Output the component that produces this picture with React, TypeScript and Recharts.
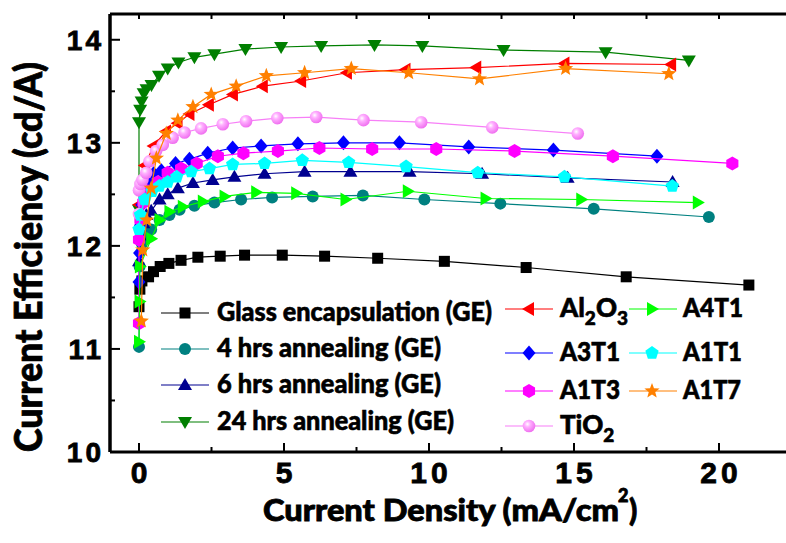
import { ScatterChart, Scatter, XAxis, YAxis, Label } from 'recharts';

// [current density (mA/cm2), current efficiency (cd/A)]
const glassGE: [number, number][] = [
  [0, 11.41], [0.03, 11.58], [0.1, 11.66], [0.33, 11.7], [0.5, 11.75], [0.73, 11.8],
  [1.03, 11.83], [1.45, 11.86], [2.03, 11.89], [2.8, 11.9], [3.64, 11.91], [4.94, 11.91],
  [6.4, 11.9], [8.23, 11.88], [10.53, 11.85], [13.35, 11.79], [16.8, 11.7], [21.03, 11.62],
];
const anneal4h: [number, number][] = [
  [0, 11.02], [0.02, 11.8], [0.1, 12.02], [0.25, 12.1], [0.42, 12.16], [0.71, 12.25],
  [1.05, 12.3], [1.4, 12.35], [1.91, 12.39], [2.6, 12.42], [3.52, 12.45], [4.59, 12.47],
  [5.99, 12.48], [7.72, 12.49], [9.84, 12.45], [12.46, 12.41], [15.68, 12.36], [19.65, 12.28],
];
const anneal6h: [number, number][] = [
  [0, 11.85], [0.03, 12.1], [0.15, 12.22], [0.25, 12.3], [0.42, 12.34], [0.71, 12.45],
  [0.99, 12.5], [1.34, 12.56], [1.86, 12.61], [2.54, 12.64], [3.29, 12.67], [4.33, 12.7],
  [5.71, 12.72], [7.29, 12.72], [9.33, 12.72], [11.83, 12.7], [14.78, 12.66], [18.4, 12.62],
];
const anneal24h: [number, number][] = [
  [0, 12.35], [0, 13.2], [0.04, 13.32], [0.09, 13.4], [0.16, 13.48], [0.26, 13.52],
  [0.43, 13.56], [0.69, 13.65], [0.99, 13.72], [1.36, 13.78], [1.91, 13.83], [2.6, 13.86],
  [3.67, 13.91], [4.9, 13.93], [6.28, 13.94], [8.12, 13.95], [9.77, 13.94], [12.57, 13.9],
  [16.09, 13.88], [18.96, 13.8],
];
const al2o3: [number, number][] = [
  [0, 12.4], [0.05, 12.53], [0.2, 12.78], [0.5, 12.97], [0.93, 13.11], [1.33, 13.19],
  [1.74, 13.28], [2.41, 13.37], [3.24, 13.47], [4.27, 13.55], [5.59, 13.6], [7.17, 13.68],
  [9.19, 13.71], [11.63, 13.73], [14.67, 13.77], [18.35, 13.76],
];
const a3t1: [number, number][] = [
  [0, 11.65], [0.02, 11.93], [0.05, 12.2], [0.1, 12.4], [0.3, 12.62], [0.5, 12.7],
  [0.77, 12.73], [1.26, 12.8], [1.74, 12.84], [2.37, 12.9], [3.23, 12.95], [4.21, 12.97],
  [5.48, 12.99], [7.05, 13.0], [8.98, 13.0], [11.37, 12.96], [14.29, 12.93], [17.86, 12.87],
];
const a1t3: [number, number][] = [
  [0, 11.25], [0, 12.06], [0.05, 12.25], [0.15, 12.42], [0.3, 12.53], [0.65, 12.62],
  [0.99, 12.71], [1.45, 12.75], [1.99, 12.8], [2.72, 12.87], [3.6, 12.9], [4.79, 12.92],
  [6.22, 12.95], [8.04, 12.94], [10.25, 12.94], [12.95, 12.92], [16.34, 12.87], [20.46, 12.8],
];
const tio2: [number, number][] = [
  [0, 12.31], [0, 12.54], [0.05, 12.6], [0.12, 12.64], [0.25, 12.71], [0.36, 12.82],
  [0.59, 12.92], [0.82, 12.98], [1.16, 13.05], [1.57, 13.1], [2.14, 13.14], [2.89, 13.18],
  [3.69, 13.21], [4.77, 13.24], [6.11, 13.25], [7.74, 13.22], [9.73, 13.2], [12.18, 13.15],
  [15.13, 13.09],
];
const a4t1: [number, number][] = [
  [0, 11.07], [0.02, 11.46], [0.03, 11.8], [0.42, 12.07], [0.71, 12.25], [1.05, 12.33],
  [1.51, 12.38], [2.2, 12.43], [2.95, 12.48], [4.04, 12.52], [5.42, 12.51], [7.12, 12.45],
  [9.27, 12.53], [11.95, 12.46], [15.25, 12.45], [19.27, 12.42],
];
const a1t1: [number, number][] = [
  [0, 12.16], [0.05, 12.3], [0.2, 12.45], [0.45, 12.53], [0.7, 12.58], [0.99, 12.62],
  [1.3, 12.67], [1.8, 12.72], [2.43, 12.75], [3.23, 12.79], [4.33, 12.8], [5.63, 12.83],
  [7.23, 12.81], [9.21, 12.77], [11.68, 12.71], [14.67, 12.67], [18.39, 12.58],
];
const a1t7: [number, number][] = [
  [0.08, 11.27], [0.13, 11.96], [0.27, 12.25], [0.42, 12.56], [0.6, 12.85], [0.94, 13.09],
  [1.34, 13.22], [1.86, 13.35], [2.49, 13.47], [3.35, 13.55], [4.39, 13.65], [5.71, 13.68],
  [7.32, 13.72], [9.3, 13.68], [11.74, 13.62], [14.71, 13.72], [18.27, 13.67],
];

const xTicks = [0, 2.5, 5, 7.5, 10, 12.5, 15, 17.5, 20];
const yTicks = [10, 10.5, 11, 11.5, 12, 12.5, 13, 13.5, 14];

type Kind = 'square' | 'circle' | 'up' | 'down' | 'left' | 'right' | 'diamond' | 'hexagon' | 'sphere' | 'pentagon' | 'star';

const series: { name: string; data: [number, number][]; color: string; kind: Kind }[] = [
  { name: 'Glass encapsulation (GE)', data: glassGE, color: '#000000', kind: 'square' },
  { name: '4 hrs annealing (GE)', data: anneal4h, color: '#008080', kind: 'circle' },
  { name: '6 hrs annealing (GE)', data: anneal6h, color: '#000090', kind: 'up' },
  { name: '24 hrs annealing (GE)', data: anneal24h, color: '#007F00', kind: 'down' },
  { name: 'Al2O3', data: al2o3, color: '#FF0000', kind: 'left' },
  { name: 'A3T1', data: a3t1, color: '#0000FF', kind: 'diamond' },
  { name: 'A1T3', data: a1t3, color: '#FF00FF', kind: 'hexagon' },
  { name: 'TiO2', data: tio2, color: '#F77FF7', kind: 'sphere' },
  { name: 'A4T1', data: a4t1, color: '#00FF00', kind: 'right' },
  { name: 'A1T1', data: a1t1, color: '#00FFFF', kind: 'pentagon' },
  { name: 'A1T7', data: a1t7, color: '#FF8000', kind: 'star' },
];

// legend layout: [line start, marker x, line end, text x, row y, text width]
const legendPos: [number, number, number, number, number, number][] = [
  [161, 185, 209, 217, 313, 275],
  [161, 185, 209, 217, 349, 224],
  [161, 185, 209, 217, 385, 224],
  [161, 185, 209, 217, 422, 237],
  [505, 529, 553, 560, 309, 0],
  [505, 529, 553, 560, 353, 60],
  [505, 529, 553, 560, 391, 60],
  [505, 529, 553, 560, 426, 0],
  [629, 652, 677, 683, 309, 60],
  [629, 652, 677, 683, 353, 59],
  [629, 652, 677, 683, 391, 58],
];

const poly = (cx: number, cy: number, r: number, n: number, rot: number) =>
  Array.from({ length: n }, (_, i) => {
    const a = rot + (i * 2 * Math.PI) / n;
    return `${cx + r * Math.cos(a)},${cy + r * Math.sin(a)}`;
  }).join(' ');

const starPts = (cx: number, cy: number, R: number, r: number) =>
  Array.from({ length: 10 }, (_, i) => {
    const a = -Math.PI / 2 + (i * Math.PI) / 5;
    const rr = i % 2 === 0 ? R : r;
    return `${cx + rr * Math.cos(a)},${cy + rr * Math.sin(a)}`;
  }).join(' ');

function Marker({ kind, color, cx, cy }: { kind: Kind; color: string; cx: number; cy: number }) {
  if (cx == null || cy == null) return null;
  switch (kind) {
    case 'square':
      return <rect x={cx - 5.5} y={cy - 5.5} width={11} height={11} fill={color} />;
    case 'circle':
      return <circle cx={cx} cy={cy} r={6} fill={color} />;
    case 'up':
      return <polygon points={`${cx},${cy - 7} ${cx + 7},${cy + 5} ${cx - 7},${cy + 5}`} fill={color} />;
    case 'down':
      return <polygon points={`${cx},${cy + 7} ${cx + 7},${cy - 5} ${cx - 7},${cy - 5}`} fill={color} />;
    case 'left':
      return <polygon points={`${cx - 7},${cy} ${cx + 5},${cy - 7} ${cx + 5},${cy + 7}`} fill={color} />;
    case 'right':
      return <polygon points={`${cx + 7},${cy} ${cx - 5},${cy - 7} ${cx - 5},${cy + 7}`} fill={color} />;
    case 'diamond':
      return <polygon points={`${cx},${cy - 7.5} ${cx + 6.5},${cy} ${cx},${cy + 7.5} ${cx - 6.5},${cy}`} fill={color} />;
    case 'hexagon':
      return <polygon points={poly(cx, cy, 7, 6, -Math.PI / 2)} fill={color} />;
    case 'pentagon':
      return <polygon points={poly(cx, cy, 7, 5, -Math.PI / 2)} fill={color} />;
    case 'star':
      return <polygon points={starPts(cx, cy, 8, 3.4)} fill={color} />;
    case 'sphere':
      return (
        <g>
          <defs>
            <radialGradient id="sphereGrad" cx="38%" cy="35%" r="65%">
              <stop offset="0%" stopColor="#FFFFFF" />
              <stop offset="35%" stopColor="#FFB0FF" />
              <stop offset="100%" stopColor="#F070F0" />
            </radialGradient>
          </defs>
          <circle cx={cx} cy={cy} r={6.3} fill="url(#sphereGrad)" />
        </g>
      );
  }
  return null;
}

const tickFont = "'Liberation Sans', Arial, sans-serif";
const titleFont = "Lato, 'Open Sans', sans-serif";
// the original uses heavy fonts; a thin outline thickens the strokes
const heavy = { stroke: '#000', strokeWidth: 0.8, paintOrder: 'stroke' } as const;

function BottomTick(props: any) {
  const { x, y, payload } = props;
  const v = payload.value as number;
  const major = v % 5 === 0;
  return (
    <g>
      <line x1={x} x2={x} y1={y} y2={y - (major ? 9 : 5)} stroke="#000" strokeWidth={2} />
      {major && (
        <text x={x + 2} y={y + 31} textAnchor="middle" fontFamily={tickFont} fontWeight="bold" fontSize={30} letterSpacing={4} fill="#000" {...heavy}>
          {v}
        </text>
      )}
    </g>
  );
}

function TopTick(props: any) {
  const { x, y } = props;
  return <line x1={x} x2={x} y1={y} y2={y + 5} stroke="#000" strokeWidth={2} />;
}

function LeftTick(props: any) {
  const { x, y, payload } = props;
  const v = payload.value as number;
  const major = Number.isInteger(v);
  return (
    <g>
      <line x1={x} x2={x + (major ? 10 : 5)} y1={y} y2={y} stroke="#000" strokeWidth={2} />
      {major && (
        <text x={x - 6} y={y + 10} textAnchor="end" fontFamily={tickFont} fontWeight="bold" fontSize={28} letterSpacing={3} fill="#000" {...heavy}>
          {v}
        </text>
      )}
    </g>
  );
}

function LegendText({ name, x, y, w }: { name: string; x: number; y: number; w: number }) {
  const common = { fontFamily: titleFont, fontWeight: 900, fontSize: 26, fill: '#000', ...heavy, strokeWidth: 0.6 } as const;
  if (name === 'Al2O3') {
    return (
      <text x={x} y={y} {...common}>
        Al<tspan fontSize={19} dy={8}>2</tspan>
        <tspan dy={-8}>O</tspan>
        <tspan fontSize={19} dy={8}>3</tspan>
      </text>
    );
  }
  if (name === 'TiO2') {
    return (
      <text x={x} y={y} {...common}>
        TiO<tspan fontSize={19} dy={8}>2</tspan>
      </text>
    );
  }
  return (
    <text x={x} y={y} {...common} textLength={w} lengthAdjust="spacingAndGlyphs">
      {name}
    </text>
  );
}

export default function App() {
  return (
    <div style={{ position: 'absolute', left: 0, top: 0, width: 786, height: 543, overflow: 'hidden', background: '#fff' }}>
      <ScatterChart width={800} height={543} margin={{ top: 4, right: 8.5, left: 50, bottom: 51 }}>
        <XAxis
          xAxisId="top"
          orientation="top"
          type="number"
          dataKey="x"
          domain={[-1, 22.5]}
          ticks={xTicks}
          interval={0}
          height={10}
          tickSize={0}
          tickMargin={0}
          tickLine={false}
          tick={<TopTick />}
          axisLine={{ stroke: '#000', strokeWidth: 3 }}
          allowDataOverflow
        />
        <XAxis
          type="number"
          dataKey="x"
          domain={[-1, 22.5]}
          ticks={xTicks}
          interval={0}
          height={40}
          tickSize={0}
          tickMargin={0}
          tickLine={false}
          tick={<BottomTick />}
          axisLine={{ stroke: '#000', strokeWidth: 3 }}
          allowDataOverflow
        >
          <Label
            content={() => (
              <g>
                <text x={263} y={521} fontFamily={titleFont} fontWeight={900} fontSize={30} fill="#000" {...heavy} textLength={356} lengthAdjust="spacingAndGlyphs">
                  Current Density (mA/cm
                </text>
                <text x={618} y={502} fontFamily={titleFont} fontWeight={900} fontSize={18} fill="#000" {...heavy}>
                  2
                </text>
                <text x={629} y={521} fontFamily={titleFont} fontWeight={900} fontSize={30} fill="#000" {...heavy}>
                  )
                </text>
              </g>
            )}
          />
        </XAxis>
        <YAxis
          type="number"
          dataKey="y"
          domain={[10, 14.25]}
          ticks={yTicks}
          interval={0}
          width={60}
          tickSize={0}
          tickMargin={0}
          tickLine={false}
          tick={<LeftTick />}
          axisLine={{ stroke: '#000', strokeWidth: 3.5 }}
          allowDataOverflow
        >
          <Label
            content={() => (
              <text
                transform="rotate(-90)"
                x={-257}
                y={42}
                textAnchor="middle"
                fontFamily={titleFont}
                fontWeight={900}
                fontSize={38}
                fill="#000"
                {...heavy}
                textLength={390}
                lengthAdjust="spacingAndGlyphs"
              >
                Current Efficiency (cd/A)
              </text>
            )}
          />
        </YAxis>
        {series.map((s) => (
          <Scatter
            key={s.name}
            name={s.name}
            data={s.data.map(([x, y]) => ({ x, y }))}
            fill={s.color}
            line={{ stroke: s.color, strokeWidth: 1.2 }}
            shape={(p: any) => <Marker kind={s.kind} color={s.color} cx={p.cx} cy={p.cy} />}
            isAnimationActive={false}
          />
        ))}
      </ScatterChart>
      <svg width={786} height={543} style={{ position: 'absolute', left: 0, top: 0, pointerEvents: 'none' }}>
        {series.map((s, i) => {
          const [x1, mx, x2, tx, ry, w] = legendPos[i];
          return (
            <g key={s.name}>
              <line x1={x1} x2={x2} y1={ry} y2={ry} stroke={s.color} strokeWidth={1.2} />
              <Marker kind={s.kind} color={s.color} cx={mx} cy={ry} />
              <LegendText name={s.name} x={tx} y={ry + 8} w={w} />
            </g>
          );
        })}
      </svg>
    </div>
  );
}
